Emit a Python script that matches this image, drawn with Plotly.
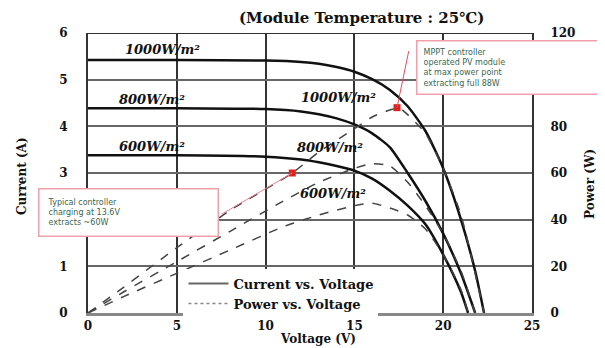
import plotly.graph_objects as go

# ---- data ----
v_1000 = [0, 5, 10, 12, 13, 14, 15, 16, 17, 18, 19, 20, 21, 21.8, 22.3]
i_1000 = [5.42, 5.42, 5.41, 5.38, 5.34, 5.27, 5.17, 5.01, 4.78, 4.43, 3.9, 3.1, 2.0, 0.9, 0]
v_800 = [0, 5, 10, 12, 13, 14, 15, 16, 17, 18, 19, 20, 21, 21.8]
i_800 = [4.39, 4.39, 4.37, 4.32, 4.26, 4.17, 4.04, 3.85, 3.55, 3.0, 2.4, 1.7, 0.85, 0]
v_600 = [0, 5, 10, 12, 13, 14, 15, 16, 17, 18, 19, 20, 21, 21.4]
i_600 = [3.38, 3.38, 3.35, 3.29, 3.23, 3.15, 3.05, 2.88, 2.62, 2.3, 1.9, 1.25, 0.45, 0]

pv_1000 = [0, 2, 5, 8, 11.5, 13, 15, 16, 17, 17.5, 18, 19, 20, 21, 22.3]
p_1000 = [0, 11, 28, 44, 60, 69, 79, 84, 87, 88, 85, 77, 62, 42, 0]
pv_800 = [0, 2, 5, 8, 11, 13, 15, 16, 17, 18, 19, 20, 21, 21.8]
p_800 = [0, 9, 22, 35, 48, 56, 62, 64, 63, 56, 46, 34, 18, 0]
pv_600 = [0, 2, 5, 8, 11, 13, 15, 16, 17, 18, 19, 20, 21, 21.4]
p_600 = [0, 7, 17, 27, 37, 42, 46, 47, 45, 42, 36, 25, 10, 0]

marker_v = [17.4, 11.5]
marker_p = [88, 60]

irr_labels = ["1000W/m²", "800W/m²", "600W/m²"]
left_label_v = [4.2, 3.6, 3.6]
left_label_i = [5.65, 4.58, 3.57]
mid_label_v = [14.1, 13.6, 13.8]
mid_label_i = [4.61, 3.55, 2.57]

x_ticks = [0, 5, 10, 15, 20, 25]
y_ticks = [0, 1, 2, 3, 4, 5, 6]
y_tick_labels = ["0", "1", "", "3", "4", "5", "6"]          # "2" hidden by the callout
y2_ticks = [0, 20, 40, 60, 80, 100, 120]
y2_tick_labels = ["0", "20", "40", "60", "80", "", "120"]   # "100" hidden by the callout

title_text = "(Module Temperature : 25℃)"
mppt_text = "MPPT controller<br>operated PV module<br>at max power point<br>extracting full 88W"
typ_text = "Typical controller<br>charging at 13.6V<br>extracts ~60W"

SERIF = "DejaVu Serif"

fig = go.Figure()

for v, i in [(v_1000, i_1000), (v_800, i_800), (v_600, i_600)]:
    fig.add_trace(go.Scatter(x=v, y=i, mode="lines", line=dict(color="#111", width=2.5, shape="spline", smoothing=0.6),
                             showlegend=False, hoverinfo="skip"))
for v, p in [(pv_1000, p_1000), (pv_800, p_800), (pv_600, p_600)]:
    fig.add_trace(go.Scatter(x=v, y=p, yaxis="y2", mode="lines",
                             line=dict(color="#444", width=1.5, dash="dash", shape="spline", smoothing=0.6),
                             showlegend=False, hoverinfo="skip"))

fig.add_trace(go.Scatter(x=marker_v, y=marker_p, yaxis="y2", mode="markers",
                         marker=dict(color="#d22", size=7, symbol="square"), showlegend=False))

# top border
fig.add_trace(go.Scatter(x=[0, 25], y=[6, 6], mode="lines", line=dict(color="#333", width=2),
                         showlegend=False, hoverinfo="skip"))

# legend entries
fig.add_trace(go.Scatter(x=[None], y=[None], mode="lines", line=dict(color="#666", width=2),
                         name="Current vs. Voltage"))
fig.add_trace(go.Scatter(x=[None], y=[None], mode="lines", line=dict(color="#888", width=1.5, dash="dot"),
                         name="Power vs. Voltage"))

lblfont = dict(family=SERIF, size=13, color="#111", weight="bold", style="italic")
annotations = []
for t, x, y in zip(irr_labels, left_label_v, left_label_i):
    annotations.append(dict(x=x, y=y, xref="x", yref="y", text=t, showarrow=False, font=lblfont))
for t, x, y in zip(irr_labels, mid_label_v, mid_label_i):
    annotations.append(dict(x=x, y=y, xref="x", yref="y", text=t, showarrow=False, font=lblfont))

annotations += [
    dict(x=0.615, y=1.055, xref="paper", yref="paper", xanchor="center", yanchor="middle",
         text=title_text, showarrow=False,
         font=dict(family=SERIF, size=15, color="#111", weight="bold")),
    dict(x=0.518, y=-0.094, xref="paper", yref="paper", xanchor="center", yanchor="middle",
         text="Voltage (V)", showarrow=False,
         font=dict(family=SERIF, size=12, color="#111", weight="bold")),
    dict(x=-0.148, y=0.49, xref="paper", yref="paper", xanchor="center", yanchor="middle",
         text="Current (A)", showarrow=False, textangle=-90,
         font=dict(family=SERIF, size=12, color="#111", weight="bold")),
    dict(x=1.13, y=0.46, xref="paper", yref="paper", xanchor="center", yanchor="middle",
         text="Power (W)", showarrow=False, textangle=-90,
         font=dict(family=SERIF, size=12, color="#111", weight="bold")),
    # pointers
    dict(x=marker_v[0], y=marker_p[0], xref="x", yref="y2", text="", showarrow=True, arrowhead=0,
         arrowcolor="#e05060", arrowwidth=1, ax=12, ay=-58),
    dict(x=marker_v[1], y=marker_p[1], xref="x", yref="y2", text="", showarrow=True, arrowhead=0,
         arrowcolor="#e88090", arrowwidth=1, ax=-72, ay=42),
    # callout boxes
    dict(x=0.738, y=0.975, xref="paper", yref="paper", xanchor="left", yanchor="top", text=mppt_text,
         showarrow=False, align="left", bgcolor="white", bordercolor="#f0a0aa", borderwidth=1.5,
         borderpad=6, width=170, font=dict(family="DejaVu Sans", size=8, color="#3d6650")),
    dict(x=-0.113, y=0.447, xref="paper", yref="paper", xanchor="left", yanchor="top", text=typ_text,
         showarrow=False, align="left", bgcolor="white", bordercolor="#f0a0aa", borderwidth=1.5,
         borderpad=8, width=162, font=dict(family="DejaVu Sans", size=8, color="#3d6650")),
]

tickfont = dict(family=SERIF, size=12, color="#111", weight="bold")
# page body has an 8px margin, so the figure is drawn 8px smaller
fig.update_layout(
    width=597, height=340,
    margin=dict(l=80, r=73, t=25, b=35),
    paper_bgcolor="white", plot_bgcolor="white",
    showlegend=True,
    legend=dict(x=0.215, y=-0.02, xanchor="left", yanchor="bottom", bgcolor="white",
                font=dict(family=SERIF, size=13, color="#111", weight="bold"),
                itemwidth=40, tracegroupgap=0),
    xaxis=dict(range=[0, 25], tickvals=x_ticks, showgrid=True, gridcolor="#333", gridwidth=2,
               showline=True, linecolor="#888", linewidth=3, zeroline=False,
               tickfont=tickfont, ticks="", ticklabelstandoff=0, fixedrange=True),
    yaxis=dict(range=[0, 6], tickvals=y_ticks, ticktext=y_tick_labels, showgrid=True,
               gridcolor="#666", gridwidth=2,
               showline=True, linecolor="#333", linewidth=2, zeroline=False,
               tickfont=tickfont, ticks="", ticklabelstandoff=16),
    yaxis2=dict(range=[0, 120], tickvals=y2_ticks, ticktext=y2_tick_labels, overlaying="y",
                side="right", showgrid=False,
                showline=True, linecolor="#333", linewidth=2, zeroline=False,
                tickfont=tickfont, ticks="", ticklabelstandoff=14),
    annotations=annotations,
)

fig.write_html("out.html")
